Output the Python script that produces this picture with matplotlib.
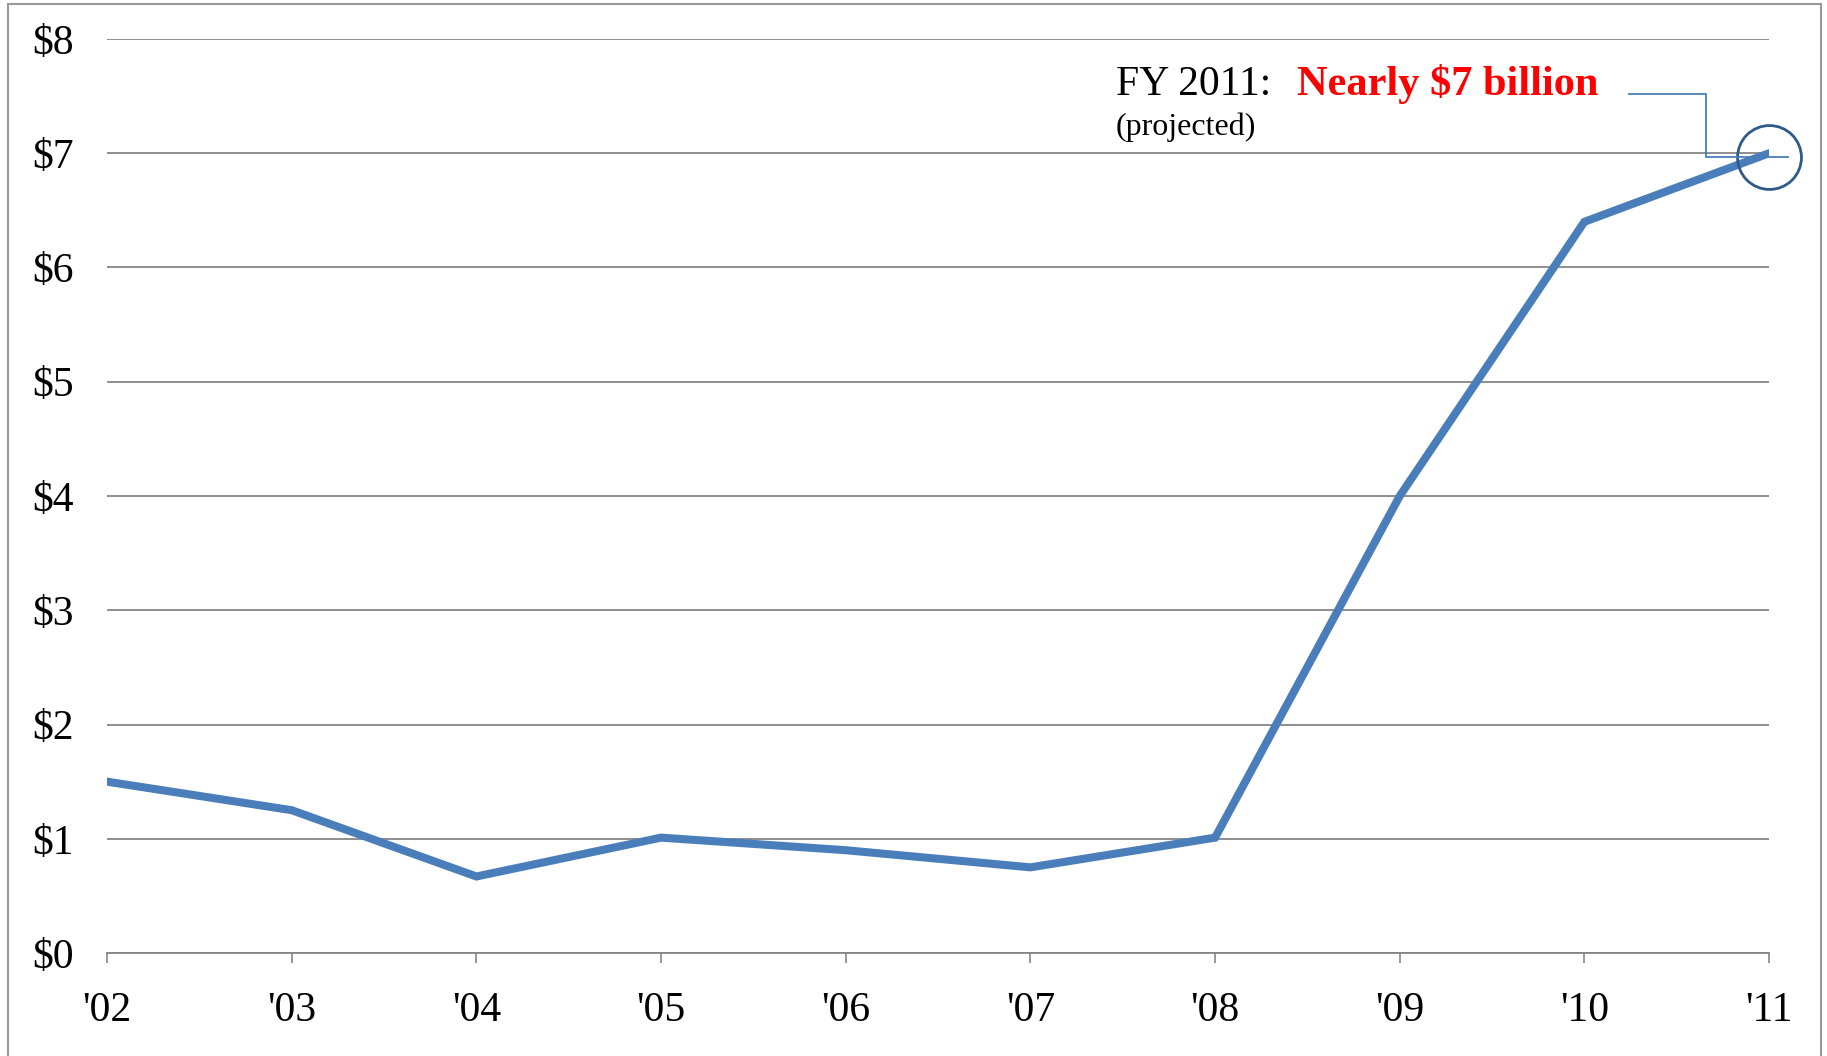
import matplotlib
matplotlib.use("Agg")
import matplotlib.pyplot as plt
from matplotlib.patches import Rectangle

years = ["'02", "'03", "'04", "'05", "'06", "'07", "'08", "'09", "'10", "'11"]
values = [1.5, 1.25, 0.67, 1.01, 0.9, 0.75, 1.01, 4.0, 6.4, 7.0]
y_ticks = [0, 1, 2, 3, 4, 5, 6, 7, 8]
y_labels = ["$%d" % v for v in y_ticks]

LINE_BLUE = "#4A7EBB"
CIRCLE_BLUE = "#2F5A8A"
GRID_GRAY = "#868686"

plt.rcParams["font.family"] = ["Liberation Serif", "DejaVu Serif"]

fig = plt.figure(figsize=(18.27, 10.56), dpi=100)
ax = fig.add_axes([0.0586, 0.0975, 0.9097, 0.8656])

xs = list(range(len(years)))
ax.plot(xs, values, color=LINE_BLUE, lw=5.8, solid_joinstyle="miter", zorder=3)

ax.set_xlim(0, len(years) - 1)
ax.set_ylim(0, 8)
ax.set_yticks(y_ticks)
ax.set_yticklabels([s.replace("$", r"\$") for s in y_labels], fontsize=30)
ax.set_xticks(xs)
ax.set_xticklabels(years, fontsize=30)
ax.tick_params(axis="y", length=0, pad=24)
ax.tick_params(axis="x", length=7.5, width=1.2, color=GRID_GRAY, direction="out", pad=20)
ax.grid(axis="y", color=GRID_GRAY, lw=1.3, zorder=1)
for side in ["top", "right", "left"]:
    ax.spines[side].set_visible(False)
ax.spines["bottom"].set_color(GRID_GRAY)
ax.spines["bottom"].set_linewidth(1.3)

# highlight circle and leader line at the last point
x_end, y_end = xs[-1], values[-1]
ax.plot([x_end], [y_end - 0.03], marker="o", ms=46, mfc="none", mec=CIRCLE_BLUE,
        mew=2.0, clip_on=False, zorder=4)
ax.plot([x_end - 0.76, x_end - 0.34, x_end - 0.34, x_end + 0.1],
        [y_end + 0.52, y_end + 0.52, y_end - 0.03, y_end - 0.03],
        color=LINE_BLUE, lw=1.3, clip_on=False, zorder=4)

fig.text(0.6108, 0.910, "FY 2011:", fontsize=30, color="black")
fig.text(0.7099, 0.910, r"Nearly \$7 billion", fontsize=30.5, color="#FF0000",
         fontweight="bold")
fig.text(0.6108, 0.872, "(projected)", fontsize=23, color="black")

# outer frame
fig.patches.append(Rectangle((8 / 1827, -0.05), 1813 / 1827, 1.05 - 4 / 1056,
                             transform=fig.transFigure, fill=False,
                             edgecolor="#999999", lw=1.5))

fig.savefig("out.png", dpi=100)
